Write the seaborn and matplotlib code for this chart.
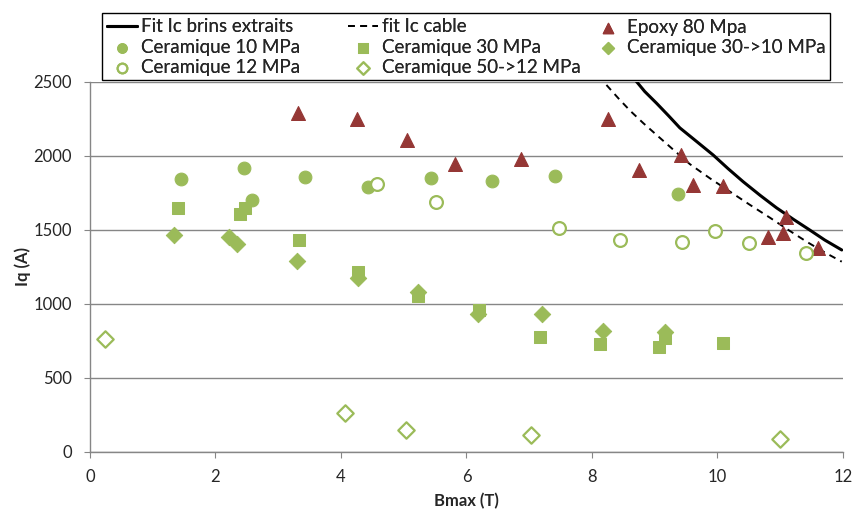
import numpy as np
import pandas as pd
import matplotlib
matplotlib.use("Agg")
import matplotlib.pyplot as plt
from matplotlib.patches import Rectangle
import seaborn as sns

# donnees
epoxy_b = [3.31, 4.25, 5.05, 5.82, 6.87, 8.25, 8.75, 9.42, 9.61, 10.09, 10.80, 11.04, 11.09, 11.60]
epoxy_i = [2290, 2250, 2110, 1945, 1980, 2250, 1905, 2010, 1805, 1795, 1455, 1480, 1590, 1380]

cer10_b = [1.45, 2.45, 2.58, 3.43, 4.43, 5.43, 6.41, 7.41, 9.37]
cer10_i = [1845, 1920, 1700, 1855, 1790, 1848, 1832, 1868, 1743]

cer12_b = [4.57, 5.51, 7.47, 8.45, 9.43, 9.96, 10.50, 11.41]
cer12_i = [1811, 1689, 1512, 1432, 1419, 1493, 1412, 1345]

cer30_b = [1.40, 2.39, 2.47, 3.33, 4.27, 5.23, 6.20, 7.17, 8.13, 9.07, 9.16, 10.09]
cer30_i = [1649, 1608, 1649, 1432, 1214, 1055, 960, 777, 730, 709, 770, 736]

cer30_10_b = [1.34, 2.21, 2.34, 3.30, 4.27, 5.23, 6.19, 7.20, 8.17, 9.16]
cer30_10_i = [1466, 1452, 1405, 1288, 1176, 1080, 930, 930, 818, 808]

cer50_12_b = [0.24, 4.06, 5.04, 7.03, 11.00]
cer50_12_i = [763, 264, 149, 118, 88]

fit_brins_b = [8.69, 8.84, 9.03, 9.22, 9.40, 9.67, 9.93, 10.17, 10.41, 10.68, 10.94, 11.21, 11.47, 11.71, 11.98]
fit_brins_i = [2513, 2436, 2356, 2272, 2190, 2097, 2007, 1914, 1826, 1734, 1650, 1572, 1500, 1432, 1365]

fit_cable_b = [8.23, 8.42, 8.61, 8.82, 9.03, 9.30, 9.56, 9.88, 10.20, 10.52, 10.84, 11.13, 11.42, 11.69, 11.98]
fit_cable_i = [2480, 2390, 2305, 2221, 2142, 2041, 1945, 1849, 1759, 1669, 1582, 1500, 1421, 1353, 1286]

vert = "#9BBB59"
rouge = "#953735"
gris = "#868686"

sns.set_style("white")
plt.rcParams["font.family"] = ["Lato", "DejaVu Sans"]

W, H = 853, 513
fig = plt.figure(figsize=(W / 100, H / 100), dpi=100)
ax = fig.add_axes([90 / W, 1 - 452 / H, 753 / W, 370 / H])

sns.lineplot(x=fit_brins_b, y=fit_brins_i, sort=False, color="black", lw=2.2,
             ax=ax, label="Fit Ic brins extraits")
sns.lineplot(x=fit_cable_b, y=fit_cable_i, sort=False, color="black", lw=1.4,
             linestyle=(0, (3.5, 2.8)), ax=ax, label="fit Ic cable")

ms = 85
sns.scatterplot(x=epoxy_b, y=epoxy_i, marker="^", s=ms + 15, color=rouge,
                edgecolor=rouge, ax=ax, label="Epoxy 80 Mpa", zorder=4)
sns.scatterplot(x=cer10_b, y=cer10_i, marker="o", s=ms, color=vert,
                edgecolor=vert, ax=ax, label="Ceramique 10 MPa", zorder=4)
sns.scatterplot(x=cer12_b, y=cer12_i, marker="o", s=ms, facecolor="white",
                edgecolor=vert, linewidth=1.6, ax=ax, label="Ceramique 12 MPa", zorder=4)
sns.scatterplot(x=cer30_b, y=cer30_i, marker="s", s=ms, color=vert,
                edgecolor=vert, ax=ax, label="Ceramique 30 MPa", zorder=4)
sns.scatterplot(x=cer50_12_b, y=cer50_12_i, marker="D", s=ms - 15, facecolor="white",
                edgecolor=vert, linewidth=1.6, ax=ax, label="Ceramique 50->12 MPa", zorder=4)
sns.scatterplot(x=cer30_10_b, y=cer30_10_i, marker="D", s=ms - 15, color=vert,
                edgecolor=vert, ax=ax, label="Ceramique 30->10 MPa", zorder=4)

ax.set_xlim(0, 12)
ax.set_ylim(0, 2500)
ax.set_xticks(np.arange(0, 13, 2))
ax.set_yticks(np.arange(0, 2501, 500))
ax.yaxis.grid(True, color=gris, lw=1)
ax.xaxis.grid(False)
ax.set_axisbelow(True)
for s in ["top", "right"]:
    ax.spines[s].set_visible(False)
for s in ["left", "bottom"]:
    ax.spines[s].set_color(gris)
    ax.spines[s].set_linewidth(1)
ax.tick_params(axis="both", direction="out", length=4.5, color=gris, labelsize=12,
               bottom=True, left=True)
ax.tick_params(axis="x", pad=7.5)
ax.tick_params(axis="y", pad=8.5)
ax.set_xlabel("Bmax (T)", fontsize=12, fontweight="bold", labelpad=6)
ax.set_ylabel("Iq (A)", fontsize=12, fontweight="bold", labelpad=2)

# legende en haut : 3 colonnes placees a la main + cadre
h, l = ax.get_legend_handles_labels()
ax.get_legend().remove()
hd = dict(zip(l, h))
colonnes = [
    (107, ["Fit Ic brins extraits", "Ceramique 10 MPa", "Ceramique 12 MPa"]),
    (348, ["fit Ic cable", "Ceramique 30 MPa", "Ceramique 50->12 MPa"]),
    (593, ["Epoxy 80 Mpa", "Ceramique 30->10 MPa"]),
]
for x0, noms in colonnes:
    lg = fig.legend([hd[k] for k in noms], noms, loc="upper left",
                    bbox_to_anchor=(x0 / W, 1 - 18.5 / H), frameon=False,
                    fontsize=13.5, handlelength=1.6, handletextpad=0.2,
                    labelspacing=0.17, borderpad=0, borderaxespad=0,
                    markerscale=0.75)
    fig.add_artist(lg)
fig.add_artist(Rectangle((102 / W, 1 - 80 / H), 728 / W, 67 / H, transform=fig.transFigure,
                         fill=False, edgecolor="black", lw=1))

fig.savefig("out.png", dpi=100)
